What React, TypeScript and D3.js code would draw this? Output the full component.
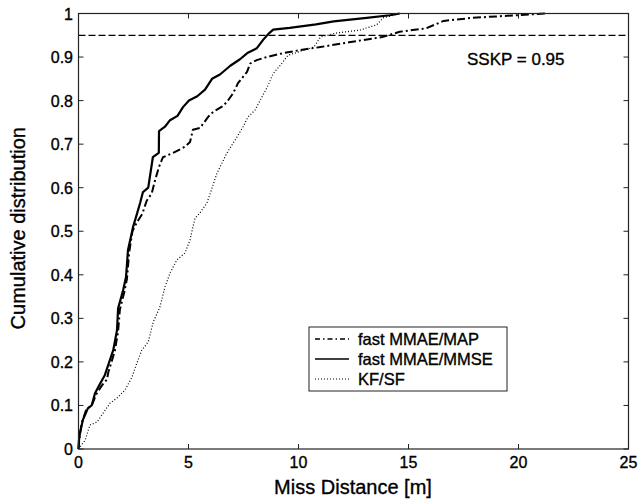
import React from "react";
import * as d3 from "d3";

const W = 639;
const H = 501;

const xTicks = [0, 5, 10, 15, 20, 25];
const yTicks = [0, 0.1, 0.2, 0.3, 0.4, 0.5, 0.6, 0.7, 0.8, 0.9, 1];
const yTickLabels = ["0", "0.1", "0.2", "0.3", "0.4", "0.5", "0.6", "0.7", "0.8", "0.9", "1"];

const seriesNames = ["fast MMAE/MAP", "fast MMAE/MMSE", "KF/SF"];

const mapX = [0, 0.05, 0.15, 0.35, 0.6, 0.8, 1.05, 1.3, 1.35, 1.5, 1.65, 1.8, 1.88, 2.08, 2.2, 2.3, 2.45, 2.65, 2.9, 3.1, 3.33, 3.48, 3.66, 3.84, 4.3, 4.84, 5.07, 5.2, 5.52, 5.9, 6.12, 6.52, 6.75, 7.03, 7.25, 7.66, 7.8, 8.1, 8.55, 9.3, 10.07, 11, 12.3, 13.8, 14.6, 15.8, 16.6, 17.9, 19.9, 21.2];
const mapY = [0, 0.03, 0.06, 0.09, 0.1, 0.125, 0.145, 0.16, 0.175, 0.2, 0.225, 0.27, 0.32, 0.36, 0.39, 0.45, 0.5, 0.52, 0.54, 0.57, 0.587, 0.617, 0.648, 0.67, 0.68, 0.694, 0.705, 0.733, 0.737, 0.763, 0.774, 0.786, 0.797, 0.817, 0.84, 0.866, 0.885, 0.893, 0.9, 0.909, 0.916, 0.923, 0.934, 0.946, 0.958, 0.966, 0.983, 0.99, 0.996, 1.0];

const mmseX = [0, 0.02, 0.07, 0.2, 0.43, 0.6, 0.75, 0.98, 1.2, 1.43, 1.58, 1.75, 1.8, 2.03, 2.16, 2.25, 2.48, 2.6, 2.8, 2.93, 3.17, 3.38, 3.65, 3.66, 3.93, 4.16, 4.5, 4.75, 5.02, 5.4, 5.75, 6.07, 6.43, 6.9, 7.34, 7.7, 8.1, 8.4, 8.67, 8.85, 9.6, 10.8, 11.6, 13.1, 14.15, 14.6];
const mmseY = [0, 0.02, 0.037, 0.067, 0.094, 0.1, 0.128, 0.15, 0.17, 0.205, 0.227, 0.273, 0.323, 0.365, 0.395, 0.457, 0.51, 0.53, 0.565, 0.59, 0.6, 0.67, 0.68, 0.73, 0.74, 0.755, 0.765, 0.785, 0.8, 0.81, 0.825, 0.85, 0.86, 0.88, 0.895, 0.91, 0.92, 0.94, 0.955, 0.963, 0.967, 0.975, 0.982, 0.99, 0.996, 1.0];

const kfX = [0, 0.07, 0.3, 0.52, 0.84, 1.13, 1.43, 1.75, 2.11, 2.43, 2.65, 2.88, 3.17, 3.4, 3.7, 3.93, 4.16, 4.47, 4.84, 5.07, 5.2, 5.3, 5.52, 5.84, 6.3, 6.75, 7.2, 7.48, 7.7, 8.02, 8.25, 8.57, 8.85, 9.25, 9.52, 10.7, 11, 11.7, 12.8, 13.55, 13.85, 14.6, 15.3];
const kfY = [0, 0.005, 0.02, 0.055, 0.062, 0.083, 0.105, 0.117, 0.135, 0.165, 0.197, 0.227, 0.246, 0.292, 0.326, 0.372, 0.404, 0.434, 0.45, 0.48, 0.51, 0.53, 0.542, 0.565, 0.634, 0.68, 0.716, 0.74, 0.762, 0.778, 0.8, 0.83, 0.862, 0.886, 0.904, 0.923, 0.946, 0.955, 0.962, 0.974, 0.99, 1.0, 1.0];

const sskp = 0.95;

const FONT = "'Liberation Sans', Arial, Helvetica, sans-serif";

export default function App() {
  const left = 78.5, right = 628.5, top = 13.5, bottom = 449;
  const x = d3.scaleLinear().domain([0, 25]).range([left, right]);
  const y = d3.scaleLinear().domain([0, 1]).range([bottom, top]);
  const line = d3
    .line<[number, number]>()
    .x((d) => x(d[0]))
    .y((d) => y(d[1]));
  const zip = (a: number[], b: number[]) => a.map((v, i) => [v, b[i]] as [number, number]);

  const styles = [
    { dash: "8,3,2,3", width: 2 },
    { dash: "none", width: 2.2 },
    { dash: "1,2", width: 1.2 },
  ];
  const data = [zip(mapX, mapY), zip(mmseX, mmseY), zip(kfX, kfY)];

  const tl = 5;
  const legX = 309, legY = 327, legW = 198, legH = 64;
  const rowY = [339, 359, 379];
  const ts = { stroke: "#000", strokeWidth: 0.35 };

  return (
    <svg
      width={W}
      height={H}
      style={{ position: "absolute", left: 0, top: 0, background: "#fff" }}
      fontFamily={FONT}
    >
      <rect x={0} y={0} width={W} height={H} fill="#fff" />
      {data.map((d, i) => (
        <path
          key={i}
          d={line(d) || ""}
          fill="none"
          stroke="#000"
          strokeWidth={styles[i].width}
          strokeDasharray={styles[i].dash}
          strokeLinejoin="round"
        />
      ))}
      <line x1={x(0)} x2={x(25)} y1={y(sskp)} y2={y(sskp)} stroke="#000" strokeWidth={1.3} strokeDasharray="7,3" />
      <text x={467} y={65} fontSize={17} fill="#000" {...ts}>SSKP = 0.95</text>

      <rect x={left} y={top} width={right - left} height={bottom - top} fill="none" stroke="#222" strokeWidth={1.2} />
      {xTicks.map((t) => (
        <g key={"x" + t}>
          <line x1={x(t)} x2={x(t)} y1={bottom} y2={bottom - tl} stroke="#222" />
          <line x1={x(t)} x2={x(t)} y1={top} y2={top + tl} stroke="#222" />
          <text x={x(t)} y={468} fontSize={16} textAnchor="middle" fill="#000" {...ts}>{t}</text>
        </g>
      ))}
      {yTicks.map((t, i) => (
        <g key={"y" + t}>
          <line x1={left} x2={left + tl} y1={y(t)} y2={y(t)} stroke="#222" />
          <line x1={right} x2={right - tl} y1={y(t)} y2={y(t)} stroke="#222" />
          <text x={73} y={y(t) + 6} fontSize={16} textAnchor="end" fill="#000" {...ts}>{yTickLabels[i]}</text>
        </g>
      ))}
      <text x={353} y={494} fontSize={20} textAnchor="middle" fill="#000" {...ts}>Miss Distance [m]</text>
      <text transform={`translate(25,${(top + bottom) / 2 - 3}) rotate(-90)`} fontSize={20} textAnchor="middle" fill="#000" {...ts}>
        Cumulative distribution
      </text>

      <rect x={legX} y={legY} width={legW} height={legH} fill="#fff" stroke="#222" strokeWidth={1} />
      {seriesNames.map((n, i) => (
        <g key={n}>
          <line x1={315} x2={349} y1={rowY[i]} y2={rowY[i]} stroke="#000" strokeWidth={i === 2 ? 1 : 1.3} strokeDasharray={i === 0 ? "5,3,1.5,3" : i === 2 ? "1,2" : "none"} />
          <text x={358} y={rowY[i] + 6} fontSize={16.5} fill="#000" {...ts}>{n}</text>
        </g>
      ))}
    </svg>
  );
}
